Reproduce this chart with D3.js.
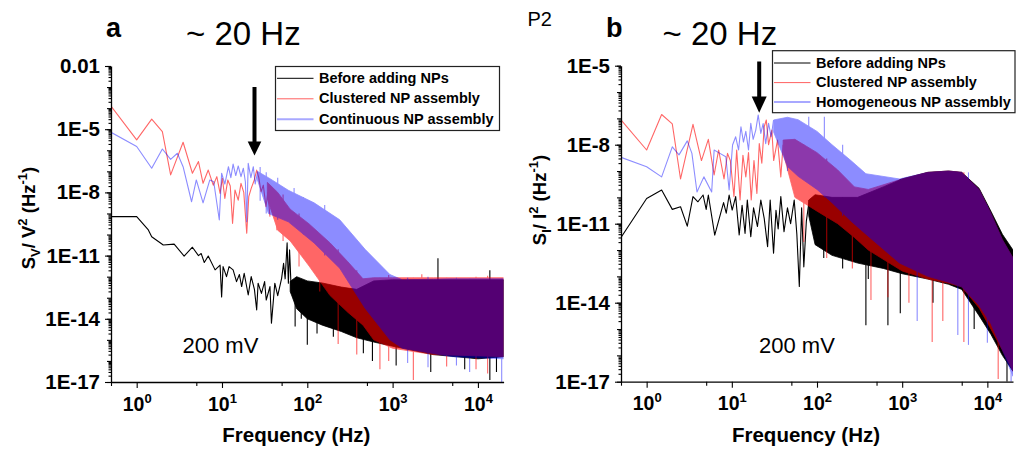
<!DOCTYPE html>
<html>
<head>
<meta charset="utf-8">
<script src="https://cdn.jsdelivr.net/npm/d3@7"></script>
<style>
  body { margin: 0; background: #fff; }
  svg text { font-family: "Liberation Sans", Arial, sans-serif; fill: #000; }
</style>
</head>
<body>
<svg id="chart" width="1016" height="454"></svg>
<script>
'use strict';

const freqDomain = [0.5, 20000];
const freqTicks = [1, 10, 100, 1000, 10000];
const freqMinorTicks = [0.5, 5, 50, 500, 5000];
const aYTicks = [1e-2, 1e-5, 1e-8, 1e-11, 1e-14, 1e-17];
const bYTicks = [1e-5, 1e-8, 1e-11, 1e-14, 1e-17];
const aLegend = ['Before adding NPs', 'Clustered NP assembly', 'Continuous NP assembly'];
const bLegend = ['Before adding NPs', 'Clustered NP assembly', 'Homogeneous NP assembly'];

// ---- panel a : S_V / V^2 ----
// sparse low-frequency part, [Hz, value]
const aBeforeLow = [[0.5, 7.1e-10], [1, 7.1e-10], [1.37, 1.66e-10], [1.5, 7.9e-11], [2.05, 3.2e-11], [2.75, 3.5e-11],
  [3.6, 9.5e-12], [4.5, 2.5e-11], [5.3, 1e-11], [5.7, 1.26e-11], [6.2, 4.7e-12], [6.9, 9.5e-12], [8.3, 2.1e-12],
  [9.5, 3.5e-12], [9.9, 1.1e-13], [10.3, 3e-12], [11.3, 1e-12], [12.1, 3e-12], [13.5, 2.1e-12], [14.8, 5.8e-13],
  [16, 1.26e-12], [17, 3.4e-13], [18.2, 1.45e-12], [20.3, 1.35e-13], [22, 1e-12], [24, 2.5e-13], [25.5, 2.6e-14],
  [26.5, 4.9e-13], [29, 1.6e-13], [31.6, 5.8e-13], [33, 7.8e-14], [36.5, 3.4e-13], [38, 6.2e-15], [41.6, 4.9e-13],
  [45, 1.26e-13], [50, 8.3e-13], [52.7, 4.3e-12], [55, 7.9e-13], [58, 4e-11], [60, 4.9e-13], [62, 1.86e-11],
  [65, 1.6e-13]];
const aClusteredLow = [[0.5, 1.26e-4], [1, 3.1e-6], [1.5, 3e-5], [2, 7.6e-6], [2.5, 6.8e-8], [3.5, 2.4e-6],
  [4.5, 8.1e-8], [5.3, 2.9e-7], [6, 2.7e-8], [6.9, 1.15e-7], [7.9, 2.2e-8], [8.7, 5.6e-8], [9.5, 8.9e-9],
  [10.1, 4.7e-8], [10.8, 5.2e-9], [11.7, 3.9e-8], [12.5, 2e-8], [13.3, 3.4e-10], [14.2, 1.3e-8], [15.5, 4.3e-9],
  [16.7, 2.7e-8], [18, 1e-8], [19.5, 1.15e-10], [20.6, 6.3e-9], [22, 1.55e-8], [23.9, 3.9e-8], [25.5, 1.15e-7],
  [27, 5e-8], [28.7, 1.07e-8], [30.5, 2.2e-8], [32.8, 2.1e-9], [34.5, 1e-8], [36.5, 7.1e-10]];
const aContinuousLow = [[0.5, 7.1e-6], [1, 1.5e-6], [1.5, 1.4e-7], [2, 1.15e-6], [2.5, 3.7e-7], [3, 7.2e-7],
  [3.5, 1.66e-7], [4.4, 3.6e-9], [5, 3.9e-8], [6, 3.2e-9], [7.2, 3.9e-8], [8, 3.2e-8], [9.3, 4.9e-10],
  [9.9, 8.1e-8], [10.8, 2.5e-8], [11.9, 1.66e-7], [12.7, 5e-8], [13.5, 2.2e-7], [14.5, 6.3e-8], [15.5, 1.8e-7],
  [16.7, 5.6e-8], [17.8, 1.4e-7], [18.8, 3.2e-8], [19.5, 4.1e-10], [20.3, 2.4e-7], [21.8, 5e-8], [23.3, 1.66e-7],
  [24.5, 2.5e-8], [26.2, 9.5e-8]];
// dense noisy part drawn as an envelope, [Hz, upper, lower]
const aBeforeBand = [[63, 6e-13, 2e-13], [75, 1e-12, 3e-14], [100, 6.3e-13, 1e-14], [150, 5e-13, 5e-15],
  [250, 3.2e-13, 2.5e-15], [380, 2.5e-13, 1.26e-15], [600, 6.3e-13, 7.9e-16], [1000, 7.1e-13, 5e-16],
  [3000, 7.1e-13, 2e-16], [10000, 7.1e-13, 1.26e-16], [20000, 7.1e-13, 1.6e-16]];
const aClusteredBand = [[34, 3e-8, 5e-9], [45, 1e-8, 1.6e-10], [63, 1.6e-9, 5e-11], [105, 3.2e-10, 3.2e-12],
  [185, 4e-11, 1.26e-13], [300, 5e-12, 2e-14], [450, 7.9e-13, 5e-15], [600, 8.9e-13, 1e-15], [1000, 8.9e-13, 4e-16],
  [3000, 8.9e-13, 2e-16], [20000, 8.9e-13, 1.6e-16]];
const aContinuousBand = [[26, 1e-7, 4e-8], [35, 5e-8, 1e-9], [60, 1.26e-8, 4e-10], [120, 3.2e-9, 4e-11],
  [240, 5e-10, 2.5e-12], [475, 2e-11, 3.2e-14], [930, 1.26e-12, 1e-15], [1300, 7.1e-13, 4e-16],
  [5000, 7.9e-13, 1.6e-16], [20000, 7.9e-13, 1.26e-16]];
// isolated spikes, [Hz, top, bottom]
const aBeforeSpikes = [[72, 5e-13, 4.3e-15], [85, 6e-13, 1e-14], [100, 6.3e-13, 5.8e-16], [130, 4e-13, 2e-15],
  [202, 3.2e-13, 1.4e-15], [454, 2.5e-13, 2.3e-16], [3400, 7.4e-12, 2e-16], [13800, 2e-12, 1.26e-17],
  [16500, 7e-13, 3e-17], [7000, 7e-13, 4e-17], [1100, 7e-13, 6e-17], [2800, 7e-13, 3e-17], [580, 5e-13, 1e-16]];
const aClusteredSpikes = [[44, 1e-8, 1.6e-10], [52, 8e-9, 5e-11], [80, 1e-9, 3e-12], [140, 1e-10, 2e-13],
  [230, 2e-11, 6.3e-16], [710, 8.9e-13, 4e-17], [1750, 8.9e-13, 1.26e-17], [4300, 8.9e-13, 5.4e-17],
  [13000, 1.1e-12, 2.5e-17], [900, 1.2e-12, 1e-16], [2200, 1.3e-12, 1e-15], [380, 2e-12, 2e-16], [9500, 1e-12, 4e-17]];
const aContinuousSpikes = [[28, 1.6e-7, 4e-9], [33, 9e-8, 1e-9], [45, 5e-8, 5e-10], [70, 1.6e-8, 5e-10],
  [90, 6e-9, 1e-10], [160, 2.5e-9, 1e-11], [8000, 7.9e-13, 3e-17], [19000, 7.9e-13, 1e-17], [2600, 1e-12, 5e-17],
  [5600, 9e-13, 6e-17], [1500, 9e-13, 8e-17]];

// ---- panel b : S_I / I^2 ----
const bBeforeLow = [[0.5, 3e-12], [1, 9.1e-11], [1.5, 1.9e-10], [2, 3.5e-11], [2.5, 4.4e-11], [3, 8.1e-12],
  [3.5, 1.07e-10], [4, 6.8e-11], [4.6, 1.23e-10], [5, 3.5e-11], [5.3, 1.23e-10], [6.3, 3.7e-12], [8, 6.3e-11],
  [8.6, 2.5e-11], [9.3, 1.23e-10], [10.1, 3.3e-11], [11.1, 1.07e-10], [12.2, 3.7e-12], [13.2, 5e-11],
  [14.3, 4.3e-12], [15.2, 7.9e-11], [16.7, 3.2e-12], [18, 4e-11], [20, 7.8e-12], [21.9, 7.9e-11], [24, 1.6e-11],
  [26.3, 1.35e-12], [28.2, 7.9e-11], [30.9, 7.6e-13], [33, 3.2e-11], [35, 6.3e-12], [37.6, 1.07e-10],
  [41, 5e-12], [45, 4e-11], [49, 1e-11], [54, 7.9e-11], [58, 4e-12], [62, 4.1e-14], [66, 4e-11], [70, 2.3e-13],
  [75, 1.26e-11], [81, 7.9e-11]];
const bClusteredLow = [[0.5, 8.7e-8], [1, 6.3e-9], [1.5, 1.4e-7], [2, 6.2e-8], [2.5, 5e-10], [3.5, 5.9e-8],
  [4.4, 2.5e-9], [5.3, 1.6e-8], [6.2, 7.1e-10], [7, 6.3e-9], [8.1, 5e-10], [8.9, 4.7e-9], [9.6, 2.5e-9],
  [10.6, 1.07e-10], [11.4, 6.3e-9], [12.5, 7.9e-11], [13.5, 4e-9], [14.6, 6e-10], [15.7, 5e-9], [16.9, 7.9e-11],
  [18.2, 2.5e-9], [19.7, 1.4e-10], [21, 1.1e-8], [22.5, 2e-9], [24, 4.8e-8], [25.4, 8.7e-8], [27, 1e-8],
  [29.5, 3.6e-8], [31, 2.5e-9], [34.4, 1.5e-8], [37.6, 6e-10], [40, 1e-8]];
const bHomogeneousLow = [[0.5, 3.3e-9], [1, 1.45e-9], [1.5, 6e-10], [2, 8.3e-9], [2.4, 4.1e-9], [3, 1.4e-8],
  [3.4, 4.7e-9], [3.9, 1.6e-10], [4.7, 6e-10], [5.8, 1.6e-10], [6.2, 6.3e-9], [7, 5e-9], [8.5, 3.5e-9],
  [9.3, 1.9e-10], [10.2, 9.8e-9], [11.1, 2e-8], [12, 6.3e-9], [12.8, 4.8e-8], [13.7, 1.26e-8], [14.6, 3.2e-8],
  [15.7, 6.3e-9], [16.7, 6.5e-8], [17.8, 1.6e-8], [19.1, 3.6e-8], [20.4, 1.35e-7], [21.9, 2.7e-8], [23.3, 6.3e-8],
  [25, 1.1e-8], [27, 6.5e-8], [29, 2e-8], [30.9, 8.7e-8]];
const bBeforeBand = [[80, 7.9e-11, 2e-11], [95, 1.26e-10, 1.6e-12], [150, 1e-10, 6.3e-13], [300, 1e-10, 3.2e-13],
  [600, 2.5e-10, 2e-13], [1000, 5e-10, 1.26e-13], [2000, 8.9e-10, 7.9e-14], [3500, 1e-9, 5e-14],
  [5000, 8.9e-10, 3.2e-14], [8000, 2.2e-10, 3.2e-15], [11000, 3e-11, 6.3e-16], [15000, 4e-12, 1e-16],
  [20000, 1e-12, 2.5e-17]];
const bClusteredBand = [[40, 1.5e-8, 5e-9], [55, 1.6e-8, 1e-10], [100, 5e-9, 3e-11], [175, 1.1e-9, 1e-11],
  [275, 2.5e-10, 3e-12], [400, 2e-10, 1e-12], [1000, 5e-10, 1.6e-13], [2000, 8.9e-10, 7.9e-14],
  [3500, 1e-9, 5.5e-14], [5000, 8.9e-10, 4e-14], [8000, 2e-10, 6.3e-15], [11000, 2.5e-11, 1e-15],
  [15000, 2.5e-12, 1.6e-16], [20000, 5e-13, 2.5e-17]];
const bHomogeneousBand = [[31, 8.7e-8, 3e-8], [45, 1.1e-7, 1.5e-9], [60, 8.9e-8, 6.3e-10], [100, 3.2e-8, 2e-10],
  [150, 1e-8, 6.3e-11], [250, 2.5e-9, 1.26e-11], [375, 7.9e-10, 4e-12], [930, 5e-10, 3.2e-13],
  [2000, 8.9e-10, 1e-13], [3500, 1e-9, 6e-14], [5000, 8.9e-10, 4e-14], [8000, 2e-10, 7.9e-15],
  [11000, 2.5e-11, 1.6e-15], [15000, 2.5e-12, 1.6e-16], [20000, 5e-13, 1.6e-17]];
const bBeforeSpikes = [[120, 1e-10, 5e-13], [680, 2e-10, 1.4e-15], [950, 5e-10, 4e-15], [2300, 8.9e-10, 1e-14],
  [17000, 1.5e-12, 1e-17], [400, 1e-10, 8e-14], [200, 1e-10, 2e-13], [375, 1e-10, 1.4e-15], [7000, 3e-10, 1e-15]];
const bClusteredSpikes = [[430, 2e-10, 1.26e-14], [1200, 5e-10, 1e-14], [2250, 8.9e-10, 3.2e-16],
  [5300, 8.9e-10, 3.2e-16], [13400, 5e-12, 1.26e-17], [260, 2e-10, 2e-13], [70, 1e-8, 2e-12], [130, 3e-9, 5e-13],
  [680, 2e-10, 1.6e-14], [3000, 9e-10, 2e-15]];
const bHomogeneousSpikes = [[80, 1.15e-7, 1e-9], [122, 1.15e-7, 1e-10], [45, 1e-7, 1e-9], [6000, 8.9e-10, 2.5e-16],
  [19000, 5e-13, 1e-17], [1500, 7e-10, 2e-15], [200, 1e-8, 2e-11], [4500, 9e-10, 6e-16], [10000, 5e-11, 3e-16]];

const svg = d3.select('#chart');

const seriesStyles = [
  { color: '#000000', opacity: 1, legendColor: '#000000', legendWidth: 1 },
  { color: '#ff0000', opacity: 0.6, legendColor: '#ff6060', legendWidth: 1 },
  { color: '#0000ff', opacity: 0.45, legendColor: '#a8a8ff', legendWidth: 2 }
];

const panels = [
  {
    id: 'a', left: 111, right: 503.6, top: 66, bottom: 382, yDomain: [1e-17, 1e-2], yTicks: aYTicks,
    lows: [aBeforeLow, aClusteredLow, aContinuousLow],
    bands: [aBeforeBand, aClusteredBand, aContinuousBand],
    spikes: [aBeforeSpikes, aClusteredSpikes, aContinuousSpikes],
    legend: aLegend, legendBox: [275.5, 66.5, 224, 64], legendRows: [78.3, 98.8, 119.3],
    ySub: 'V', yMain: 'V', yLabelPos: [35, 218]
  },
  {
    id: 'b', left: 621, right: 1013, top: 65.7, bottom: 381.7, yDomain: [1e-17, 1e-5], yTicks: bYTicks,
    lows: [bBeforeLow, bClusteredLow, bHomogeneousLow],
    bands: [bBeforeBand, bClusteredBand, bHomogeneousBand],
    spikes: [bBeforeSpikes, bClusteredSpikes, bHomogeneousSpikes],
    legend: bLegend, legendBox: [772.5, 50.7, 242.5, 62], legendRows: [63, 82.6, 102],
    ySub: 'I', yMain: 'I', yLabelPos: [546, 200]
  }
];

const formatY = v => {
  if (v === 1e-2) return '0.01';
  return '1E' + Math.round(Math.log10(v));
};

const drawPanel = (p) => {
  const x = d3.scaleLog().domain(freqDomain).range([p.left, p.right]);
  const y = d3.scaleLog().domain(p.yDomain).range([p.bottom, p.top]);
  const g = svg.append('g').attr('class', 'panel-' + p.id);

  g.append('clipPath').attr('id', 'clip-' + p.id)
    .append('rect')
    .attr('x', p.left).attr('y', p.top)
    .attr('width', p.right - p.left).attr('height', p.bottom - p.top);

  const plot = g.append('g').attr('clip-path', `url(#clip-${p.id})`);

  const area = d3.area().x(d => x(d[0])).y0(d => y(d[2])).y1(d => y(d[1]));
  const line = d3.line().x(d => x(d[0])).y(d => y(d[1]));

  seriesStyles.forEach((s, i) => {
    const sg = plot.append('g').attr('opacity', s.opacity);
    sg.append('path').datum(p.bands[i])
      .attr('d', area)
      .attr('fill', s.color)
      .attr('stroke', s.color)
      .attr('stroke-width', 0.8);
    sg.append('path').datum(p.lows[i])
      .attr('d', line)
      .attr('fill', 'none')
      .attr('stroke', s.color)
      .attr('stroke-width', 1.1)
      .attr('stroke-linejoin', 'round');
    sg.selectAll('line.spike').data(p.spikes[i]).join('line')
      .attr('class', 'spike')
      .attr('x1', d => x(d[0])).attr('x2', d => x(d[0]))
      .attr('y1', d => y(d[1])).attr('y2', d => y(d[2]))
      .attr('stroke', s.color)
      .attr('stroke-width', 1.1);
  });

  // y axis: labelled majors, then decade and sub-decade minors
  const [ylo, yhi] = p.yDomain.map(v => Math.round(Math.log10(v)));
  const decades = d3.range(ylo, yhi + 1).map(e => Math.pow(10, e));
  const subDecades = d3.range(ylo, yhi).flatMap(e => d3.range(2, 10).map(k => k * Math.pow(10, e)));

  const yMinorAxis = g.append('g').attr('transform', `translate(${p.left},0)`)
    .call(d3.axisLeft(y).tickValues(subDecades).tickFormat('').tickSize(2.5).tickSizeOuter(0));
  yMinorAxis.select('.domain').remove();
  const yDecadeAxis = g.append('g').attr('transform', `translate(${p.left},0)`)
    .call(d3.axisLeft(y).tickValues(decades).tickFormat('').tickSize(4).tickSizeOuter(0));
  yDecadeAxis.select('.domain').remove();

  const yAxis = g.append('g').attr('transform', `translate(${p.left},0)`)
    .call(d3.axisLeft(y).tickValues(p.yTicks).tickFormat(formatY).tickSize(6).tickSizeOuter(0).tickPadding(5));
  yAxis.attr('font-family', null).attr('font-size', null);
  yAxis.select('.domain').attr('stroke-width', 1.3);
  yAxis.selectAll('text').attr('font-size', 20.5).attr('font-weight', 'bold');

  // x axis
  const xMinorAxis = g.append('g').attr('transform', `translate(0,${p.bottom})`)
    .call(d3.axisBottom(x).tickValues(freqMinorTicks).tickFormat('').tickSize(4).tickSizeOuter(0));
  xMinorAxis.select('.domain').remove();
  const xAxis = g.append('g').attr('transform', `translate(0,${p.bottom})`)
    .call(d3.axisBottom(x).tickValues(freqTicks).tickFormat('').tickSize(6).tickSizeOuter(0));
  xAxis.select('.domain').attr('stroke-width', 1.3);
  g.selectAll('.tick line').attr('stroke', '#000').attr('stroke-width', 1.1);

  xAxis.selectAll('.tick').append('text')
    .attr('y', 28.5)
    .attr('text-anchor', 'middle')
    .attr('font-size', 19.5)
    .attr('font-weight', 'bold')
    .attr('fill', '#000')
    .each(function (d) {
      const t = d3.select(this);
      t.append('tspan').text('10');
      t.append('tspan').attr('dy', -8).attr('font-size', 13).text(Math.round(Math.log10(d)));
    });

  // axis titles
  g.append('text')
    .attr('x', (p.left + p.right) / 2 - 11)
    .attr('y', 441.5)
    .attr('text-anchor', 'middle')
    .attr('font-size', 20.5)
    .attr('font-weight', 'bold')
    .text('Frequency (Hz)');

  const yl = g.append('text')
    .attr('transform', `translate(${p.yLabelPos[0]},${p.yLabelPos[1]}) rotate(-90)`)
    .attr('text-anchor', 'middle')
    .attr('font-size', 18.5)
    .attr('font-weight', 'bold');
  yl.append('tspan').text('S');
  yl.append('tspan').attr('dy', 5).attr('font-size', 13).text(p.ySub);
  yl.append('tspan').attr('dy', -5).text('/ ' + p.yMain);
  yl.append('tspan').attr('dy', -8).attr('font-size', 13).text('2');
  yl.append('tspan').attr('dy', 8).text(' (Hz');
  yl.append('tspan').attr('dy', -8).attr('font-size', 13).text('-1');
  yl.append('tspan').attr('dy', 8).text(')');

  // legend
  const [lx, ly, lw, lh] = p.legendBox;
  const lg = g.append('g');
  lg.append('rect')
    .attr('x', lx).attr('y', ly).attr('width', lw).attr('height', lh)
    .attr('fill', '#fff').attr('stroke', '#222').attr('stroke-width', 1.2);
  p.legend.forEach((name, i) => {
    const ry = p.legendRows[i];
    lg.append('line')
      .attr('x1', lx + 1.5).attr('x2', lx + 38)
      .attr('y1', ry).attr('y2', ry)
      .attr('stroke', seriesStyles[i].legendColor)
      .attr('stroke-width', seriesStyles[i].legendWidth);
    lg.append('text')
      .attr('x', lx + 43.5).attr('y', ry + 4.6)
      .attr('font-size', 14.5)
      .attr('font-weight', 'bold')
      .text(name);
  });
};

panels.forEach(drawPanel);

// annotations
const arrow = (cx, y0, yHead, yTip, halfHead) => {
  svg.append('rect').attr('x', cx - 2).attr('y', y0).attr('width', 4).attr('height', yHead - y0 + 1).attr('fill', '#000');
  svg.append('path')
    .attr('d', `M${cx - halfHead},${yHead}L${cx + halfHead},${yHead}L${cx},${yTip}Z`)
    .attr('fill', '#000');
};
arrow(254.5, 87, 141.5, 155.5, 6.8);
arrow(759.2, 61.5, 96.5, 112.7, 7.5);

const note = (x, y, size, weight, text) => svg.append('text')
  .attr('x', x).attr('y', y).attr('font-size', size).attr('font-weight', weight).text(text);

note(106, 36.5, 27, 'bold', 'a');
note(606, 36.5, 27, 'bold', 'b');
note(186, 45, 33, 'normal', '~ 20 Hz');
note(662.5, 45, 33, 'normal', '~ 20 Hz');
note(527.5, 25.5, 20, 'normal', 'P2');
note(182.5, 353.3, 22, 'normal', '200 mV');
note(759, 353.3, 22, 'normal', '200 mV');
</script>
</body>
</html>
